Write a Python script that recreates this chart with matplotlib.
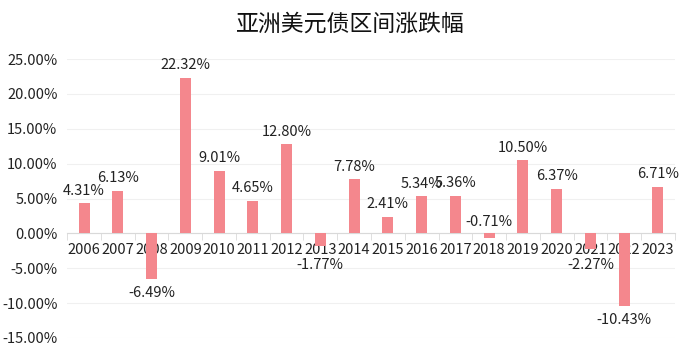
import matplotlib.pyplot as plt
import numpy as np

plt.rcParams['font.family'] = ['Noto Sans CJK SC', 'DejaVu Sans']

years = ['2006', '2007', '2008', '2009', '2010', '2011', '2012', '2013', '2014',
         '2015', '2016', '2017', '2018', '2019', '2020', '2021', '2022', '2023']
values = [4.31, 6.13, -6.49, 22.32, 9.01, 4.65, 12.80, -1.77, 7.78,
          2.41, 5.34, 5.36, -0.71, 10.50, 6.37, -2.27, -10.43, 6.71]
yticks = [-15, -10, -5, 0, 5, 10, 15, 20, 25]

fig = plt.figure(figsize=(7, 3.52), dpi=100)
ax = fig.add_axes([0.096, 0.040, 0.868, 0.792])

x = np.arange(len(years))
ax.bar(x, values, width=0.33, color='#F4878D', zorder=3)

for xi, v in zip(x, values):
    txt = '%.2f%%' % v
    if v >= 0:
        ax.annotate(txt, (xi, v), xytext=(0, 4), textcoords='offset points',
                    ha='center', va='bottom', fontsize=10.5, color='#222222')
    elif v > -1:
        # tiny negative: label sits above the axis
        ax.annotate(txt, (xi, 0), xytext=(0, 3), textcoords='offset points',
                    ha='center', va='bottom', fontsize=10.5, color='#222222')
    else:
        # keep below the year labels
        ax.annotate(txt, (xi, min(v, -2.6)), xytext=(0, -5), textcoords='offset points',
                    ha='center', va='top', fontsize=10.5, color='#222222')

ax.set_ylim(-15, 25)
ax.set_xlim(-0.5, len(years) - 0.5)
ax.set_yticks(yticks)
ax.set_yticklabels(['%.2f%%' % t for t in yticks], fontsize=10.5, color='#222222')
ax.tick_params(axis='y', length=0, pad=7)
ax.yaxis.grid(True, color='#f0f0f0', linewidth=0.8, zorder=0)

ax.spines['bottom'].set_position(('data', 0))
ax.spines['bottom'].set_color('#d9d9d9')
for s in ['left', 'right', 'top']:
    ax.spines[s].set_visible(False)

ax.set_xticks(x)
ax.set_xticklabels(years, fontsize=10.5, color='#222222')
ax.set_xticks(np.arange(-0.5, len(years), 1), minor=True)
ax.tick_params(axis='x', which='major', length=0, pad=7)
ax.tick_params(axis='x', which='minor', length=5, color='#d9d9d9', direction='out')

fig.suptitle('亚洲美元债区间涨跌幅', fontsize=16.5, fontweight='medium', x=0.5, y=0.965,
             color='#111111')

plt.savefig('out.png')
